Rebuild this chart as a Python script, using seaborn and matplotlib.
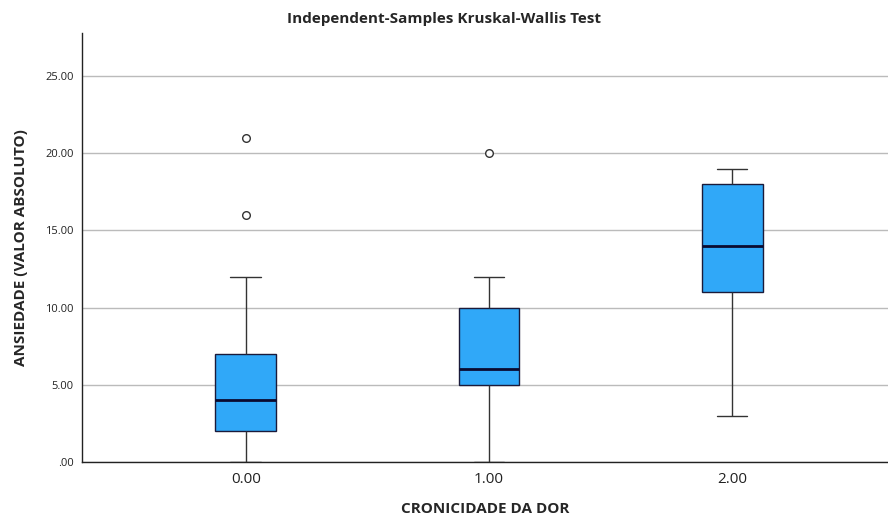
import numpy as np
import pandas as pd
import matplotlib
matplotlib.use("Agg")
import matplotlib.pyplot as plt
import seaborn as sns

# Values (five-number summary per group)
groups = ["0.00", "1.00", "2.00"]
whisker_low = [0, 0, 3]
q1 = [2, 5, 11]
median = [4, 6, 14]
q3 = [7, 10, 18]
whisker_high = [12, 12, 19]
outliers = [[16, 21], [20], []]
y_ticks = [0, 5, 10, 15, 20, 25]
y_tick_labels = [".00", "5.00", "10.00", "15.00", "20.00", "25.00"]

# Build a sample table reproducing each summary exactly
rows = []
for g, lo, a, m, b, hi, out in zip(groups, whisker_low, q1, median, q3, whisker_high, outliers):
    vals = [lo] + [a] * 10 + [m] * 10 + [b] * 10 + [hi] + list(out)
    rows += [(g, v) for v in vals]
df = pd.DataFrame(rows, columns=["group", "value"])

sns.set_theme(style="white")
plt.rcParams["font.family"] = ["Open Sans", "DejaVu Sans"]

fig = plt.figure(figsize=(8.88, 5.22), dpi=100)
ax = fig.add_axes([0.0923, 0.115, 0.9077, 0.822])

sns.boxplot(
    data=df, x="group", y="value", order=groups, ax=ax,
    width=0.25, color="#30A8F8", saturation=1, whis=1.5,
    linecolor="#1a1a3a", linewidth=1.0,
    boxprops=dict(facecolor="#30A8F8", edgecolor="#1a1a3a", linewidth=1.0),
    medianprops=dict(color="#0a0a30", linewidth=2.0),
    whiskerprops=dict(color="#333333", linewidth=1.0),
    capprops=dict(color="#333333", linewidth=1.0),
    flierprops=dict(marker="o", markersize=5.5, markerfacecolor="white",
                    markeredgecolor="#333333", markeredgewidth=1.0),
    zorder=3,
)

ax.set_ylim(0, 27.8)
ax.set_xlim(-0.673, 2.64)
ax.set_yticks(y_ticks)
ax.set_yticklabels(y_tick_labels)
ax.yaxis.grid(True, color="#BBBBBB", linewidth=1.0, zorder=0)
ax.set_axisbelow(True)
for side in ["top", "right"]:
    ax.spines[side].set_visible(False)
for side in ["left", "bottom"]:
    ax.spines[side].set_color("#222222")
    ax.spines[side].set_linewidth(1.0)
ax.tick_params(axis="y", labelsize=8, colors="#222222", length=0, pad=6)
ax.tick_params(axis="x", labelsize=11, colors="#222222", length=0, pad=7)

ax.set_xlabel("CRONICIDADE DA DOR", fontsize=11, fontweight="bold", labelpad=11)
ax.set_ylabel("ANSIEDADE (VALOR ABSOLUTO)", fontsize=11, fontweight="bold", labelpad=12)
fig.text(0.5, 0.963, "Independent-Samples Kruskal-Wallis Test", ha="center", va="center",
         fontsize=11, fontweight="bold")

fig.savefig("out.png", dpi=100)
